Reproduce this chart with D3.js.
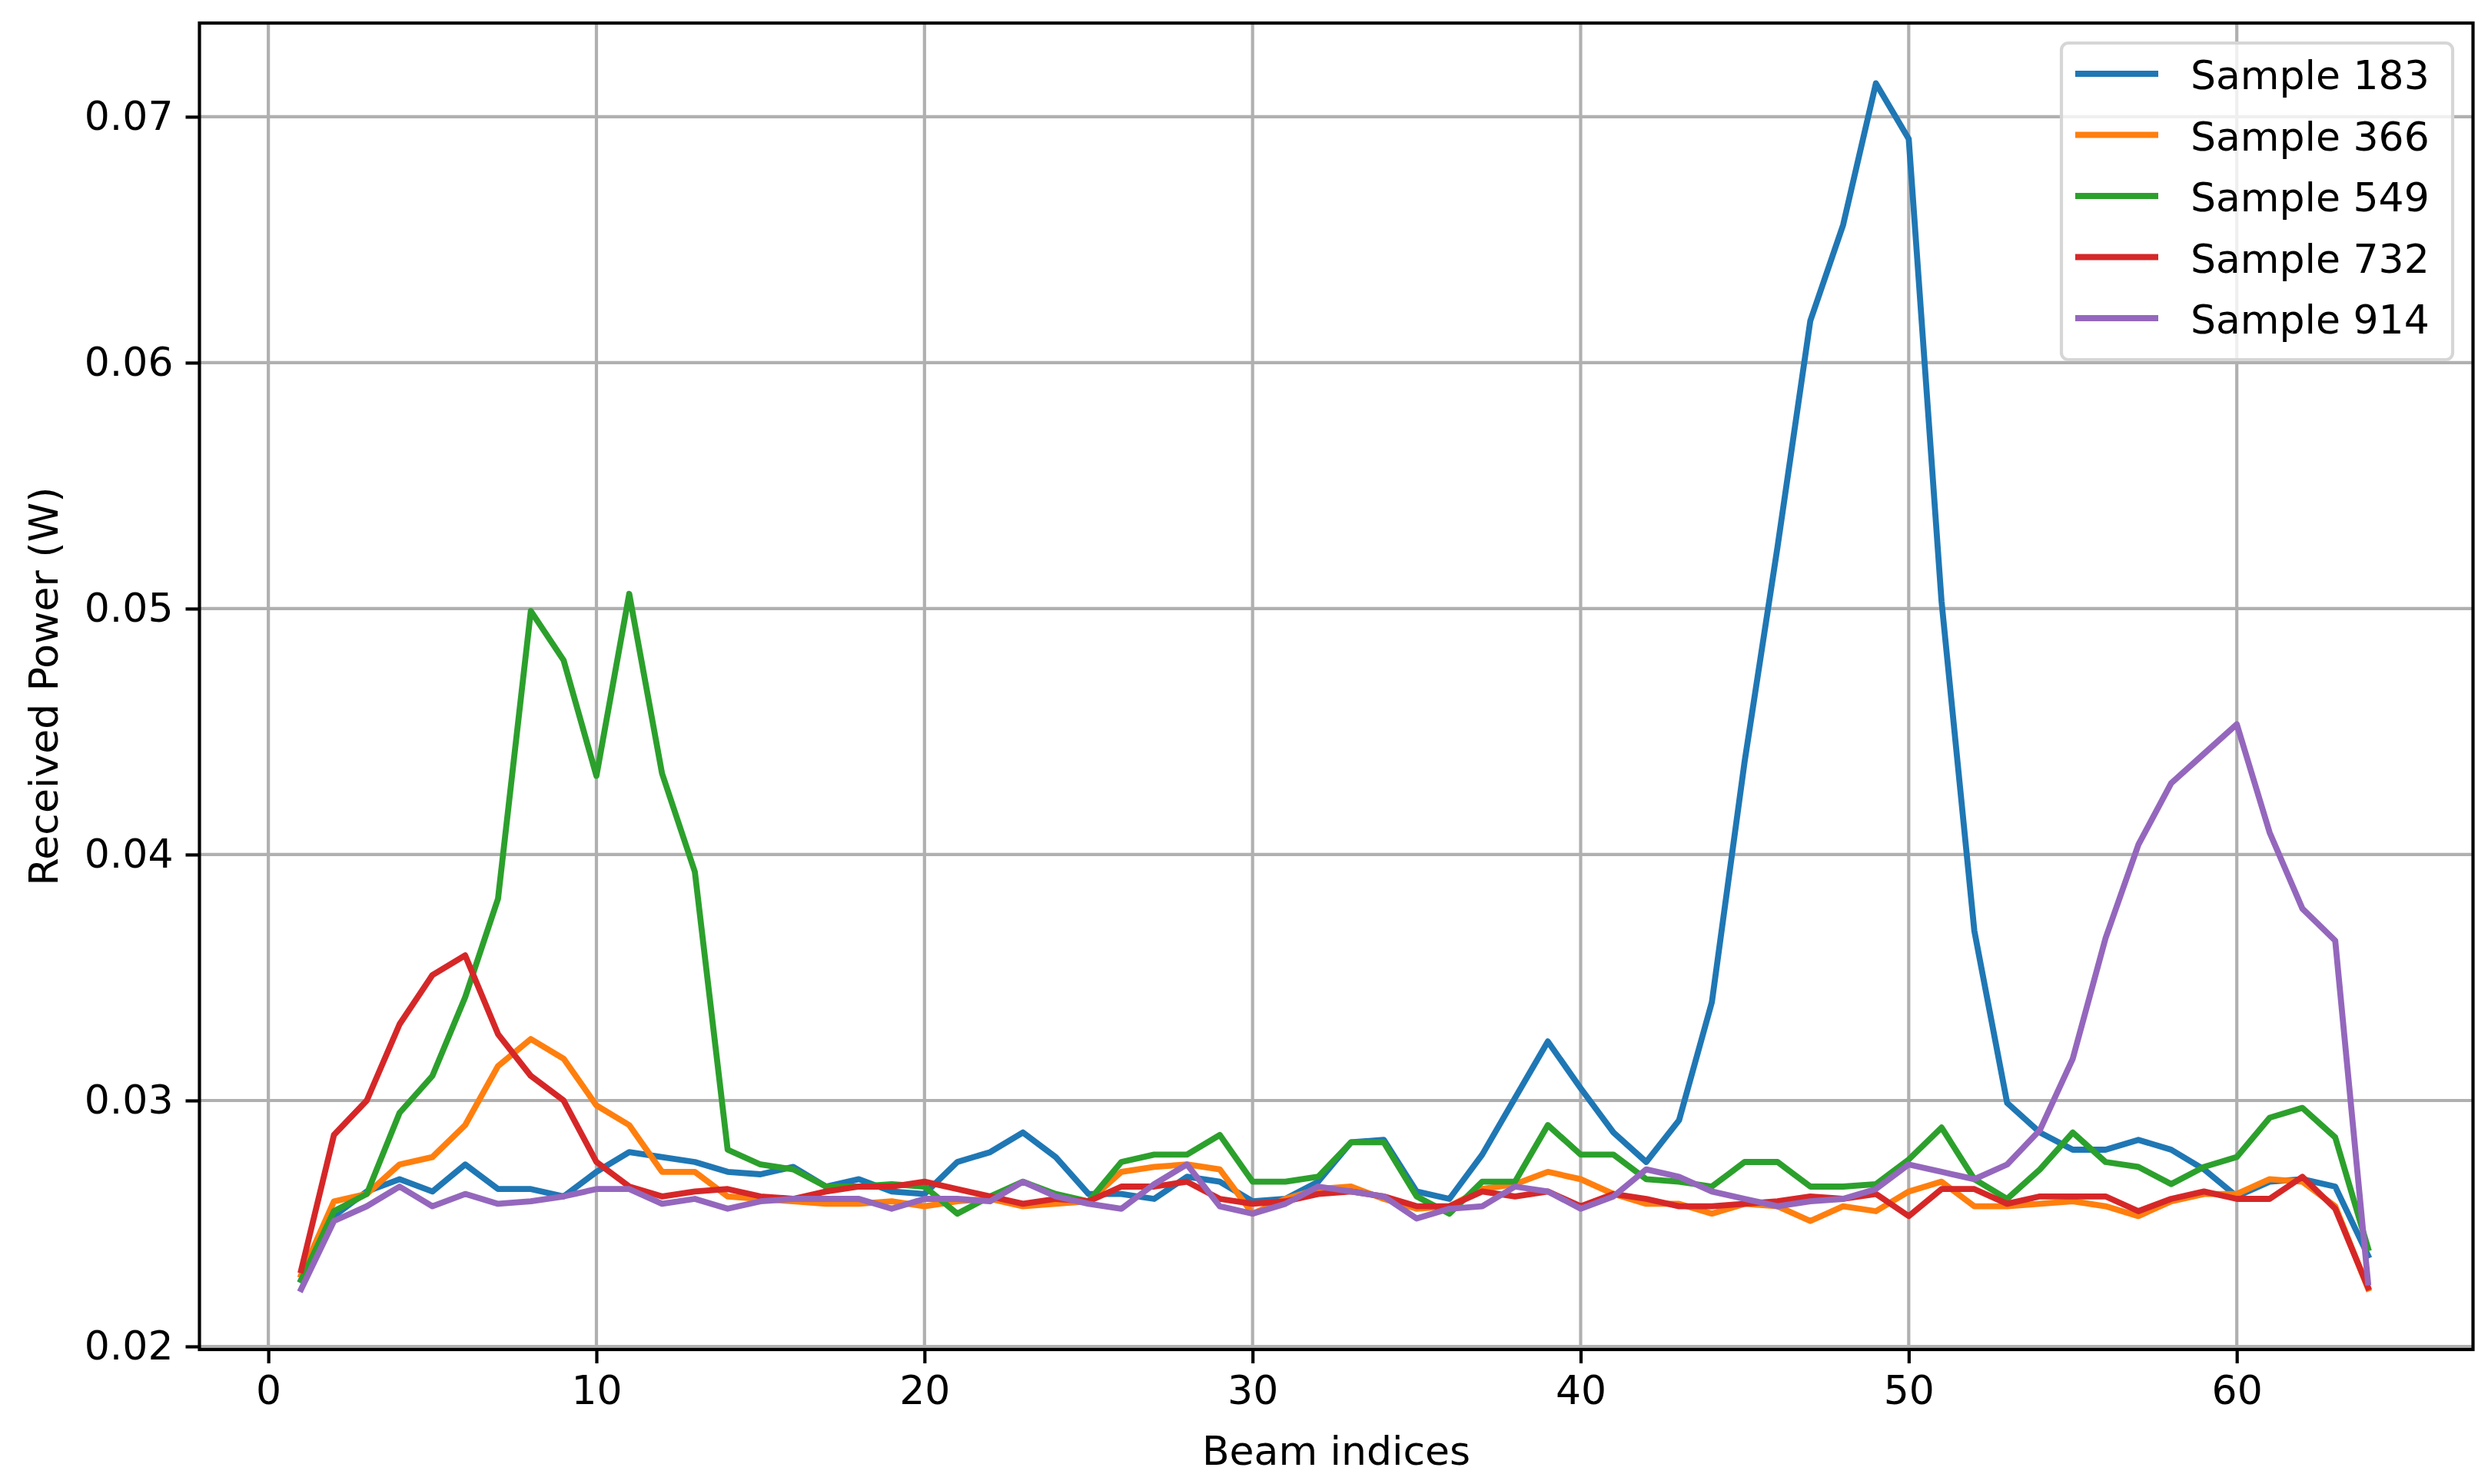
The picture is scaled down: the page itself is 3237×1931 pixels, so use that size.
<!DOCTYPE html>
<html>
<head>
<meta charset="utf-8">
<script src="https://cdn.jsdelivr.net/npm/d3@7"></script>
<style>
  html, body { margin: 0; padding: 0; background: #ffffff; }
  svg { display: block; }
  text { font-family: "DejaVu Sans", sans-serif; }
</style>
</head>
<body>
<svg id="chart" width="3237" height="1931"></svg>
<script>
// ---------- data ----------
const beamIndices = d3.range(1, 65);

const sample183 = [
  0.0227, 0.0253, 0.0263, 0.0268, 0.0263, 0.0274, 0.0264, 0.0264, 0.0261, 0.0271,
  0.0279, 0.0277, 0.0275, 0.0271, 0.0270, 0.0273, 0.0265, 0.0268, 0.0263, 0.0262,
  0.0275, 0.0279, 0.0287, 0.0277, 0.0262, 0.0262, 0.0260, 0.0269, 0.0267, 0.0259,
  0.0260, 0.0267, 0.0283, 0.0284, 0.0263, 0.0260, 0.0278, 0.0301, 0.0324, 0.0305,
  0.0287, 0.0275, 0.0292, 0.0340, 0.0438, 0.0525, 0.0617, 0.0656, 0.07136, 0.0691,
  0.0503, 0.0369, 0.0299, 0.0287, 0.0280, 0.0280, 0.0284, 0.0280, 0.0272, 0.0261,
  0.0267, 0.0268, 0.0265, 0.0237
];
const sample366 = [
  0.0229, 0.0259, 0.0262, 0.0274, 0.0277, 0.0290, 0.0314, 0.0325, 0.0317, 0.0298,
  0.0290, 0.0271, 0.0271, 0.0261, 0.0260, 0.0259, 0.0258, 0.0258, 0.0259, 0.0257,
  0.0259, 0.0260, 0.0257, 0.0258, 0.0259, 0.0271, 0.0273, 0.0274, 0.0272, 0.0254,
  0.0260, 0.0264, 0.0265, 0.0260, 0.0256, 0.0257, 0.0264, 0.0266, 0.0271, 0.0268,
  0.0262, 0.0258, 0.0258, 0.0254, 0.0258, 0.0257, 0.0251, 0.0257, 0.0255, 0.0263,
  0.0267, 0.0257, 0.0257, 0.0258, 0.0259, 0.0257, 0.0253, 0.0259, 0.0262, 0.0262,
  0.0268, 0.0267, 0.0257, 0.02235
];
const sample549 = [
  0.0227, 0.0255, 0.0262, 0.0295, 0.0310, 0.0342, 0.0382, 0.0499, 0.0479, 0.0432,
  0.0506, 0.0433, 0.0393, 0.0280, 0.0274, 0.0272, 0.0265, 0.0265, 0.0266, 0.0265,
  0.0254, 0.0261, 0.0267, 0.0262, 0.0259, 0.0275, 0.0278, 0.0278, 0.0286, 0.0267,
  0.0267, 0.0269, 0.0283, 0.0283, 0.0261, 0.0254, 0.0267, 0.0267, 0.0290, 0.0278,
  0.0278, 0.0268, 0.0267, 0.0265, 0.0275, 0.0275, 0.0265, 0.0265, 0.0266, 0.0276,
  0.0289, 0.0268, 0.0260, 0.0272, 0.0287, 0.0275, 0.0273, 0.0266, 0.0273, 0.0277,
  0.0293, 0.0297, 0.0285, 0.0240
];
const sample732 = [
  0.0231, 0.0286, 0.0300, 0.0331, 0.0351, 0.0359, 0.0327, 0.0310, 0.0300, 0.0275,
  0.0265, 0.0261, 0.0263, 0.0264, 0.0261, 0.0260, 0.0263, 0.0265, 0.0265, 0.0267,
  0.0264, 0.0261, 0.0258, 0.0260, 0.0259, 0.0265, 0.0265, 0.0267, 0.0260, 0.0258,
  0.0259, 0.0262, 0.0263, 0.0261, 0.0257, 0.0257, 0.0263, 0.0261, 0.0263, 0.0257,
  0.0262, 0.0260, 0.0257, 0.0257, 0.0258, 0.0259, 0.0261, 0.0260, 0.0262, 0.0253,
  0.0264, 0.0264, 0.0258, 0.0261, 0.0261, 0.0261, 0.0255, 0.0260, 0.0263, 0.0260,
  0.0260, 0.0269, 0.0256, 0.0224
];
const sample914 = [
  0.02233, 0.0251, 0.0257, 0.0265, 0.0257, 0.0262, 0.0258, 0.0259, 0.0261, 0.0264,
  0.0264, 0.0258, 0.0260, 0.0256, 0.0259, 0.0260, 0.0260, 0.0260, 0.0256, 0.0260,
  0.0260, 0.0259, 0.0267, 0.0261, 0.0258, 0.0256, 0.0266, 0.0274, 0.0257, 0.0254,
  0.0258, 0.0265, 0.0263, 0.0261, 0.0252, 0.0256, 0.0257, 0.0265, 0.0263, 0.0256,
  0.0261, 0.0272, 0.0269, 0.0263, 0.0260, 0.0257, 0.0259, 0.0260, 0.0264, 0.0274,
  0.0271, 0.0268, 0.0274, 0.0288, 0.0317, 0.0366, 0.0404, 0.0429, 0.0441, 0.0453,
  0.0409, 0.0378, 0.0365, 0.0226
];

const seriesNames = ["Sample 183", "Sample 366", "Sample 549", "Sample 732", "Sample 914"];
const seriesValues = [sample183, sample366, sample549, sample732, sample914];
const seriesColors = ["#1f77b4", "#ff7f0e", "#2ca02c", "#d62728", "#9467bd"];

const xTicks = [0, 10, 20, 30, 40, 50, 60];
const yTicks = [0.02, 0.03, 0.04, 0.05, 0.06, 0.07];
const xLabel = "Beam indices";
const yLabel = "Received Power (W)";

// ---------- layout ----------
const plot = { left: 259.5, right: 3217.5, top: 30, bottom: 1756 };
const FONT = 52;
const LW = 4.2;

const svg = d3.select("#chart");
svg.append("rect").attr("width", 3237).attr("height", 1931).attr("fill", "#ffffff");

const x = d3.scaleLinear().domain([-2.1, 67.2]).range([plot.left, plot.right]);
const y = d3.scaleLinear().domain([0.019875, 0.07381]).range([plot.bottom, plot.top]);

// grid
const grid = svg.append("g");
grid.selectAll("line.gx").data(xTicks).join("line")
  .attr("x1", d => x(d)).attr("x2", d => x(d))
  .attr("y1", plot.top).attr("y2", plot.bottom)
  .attr("stroke", "#b0b0b0").attr("stroke-width", LW);
grid.selectAll("line.gy").data(yTicks).join("line")
  .attr("y1", d => y(d)).attr("y2", d => y(d))
  .attr("x1", plot.left).attr("x2", plot.right)
  .attr("stroke", "#b0b0b0").attr("stroke-width", LW);

// lines
const line = d3.line()
  .x((d, i) => x(beamIndices[i]))
  .y(d => y(d));

svg.append("g").selectAll("path").data(seriesValues).join("path")
  .attr("d", d => line(d))
  .attr("fill", "none")
  .attr("stroke", (d, i) => seriesColors[i])
  .attr("stroke-width", 7.8)
  .attr("stroke-linejoin", "round")
  .attr("stroke-linecap", "square");

// axes
const xAxis = d3.axisBottom(x).tickValues(xTicks).tickSize(18).tickPadding(16)
  .tickFormat(d3.format("d"));
const yAxis = d3.axisLeft(y).tickValues(yTicks).tickSize(18).tickPadding(16)
  .tickFormat(d3.format(".2f"));

const gx = svg.append("g").attr("transform", `translate(0,${plot.bottom})`).call(xAxis);
const gy = svg.append("g").attr("transform", `translate(${plot.left},0)`).call(yAxis);
[gx, gy].forEach(g => {
  g.select(".domain").remove();
  g.selectAll(".tick line").attr("stroke", "#000").attr("stroke-width", LW);
  g.selectAll(".tick text").attr("fill", "#000")
    .style("font-family", "'DejaVu Sans', sans-serif").style("font-size", FONT + "px");
});

// frame (spines)
svg.append("rect")
  .attr("x", plot.left).attr("y", plot.top)
  .attr("width", plot.right - plot.left).attr("height", plot.bottom - plot.top)
  .attr("fill", "none").attr("stroke", "#000").attr("stroke-width", LW);

// axis labels
svg.append("text")
  .attr("x", (plot.left + plot.right) / 2).attr("y", 1906)
  .attr("text-anchor", "middle").attr("font-size", FONT).attr("fill", "#000")
  .text(xLabel);
svg.append("text")
  .attr("transform", "rotate(-90)")
  .attr("x", -(plot.top + plot.bottom) / 2).attr("y", 75)
  .attr("text-anchor", "middle").attr("font-size", FONT).attr("fill", "#000")
  .text(yLabel);

// legend
const legend = svg.append("g");
legend.append("rect")
  .attr("x", 2682).attr("y", 56).attr("width", 509).attr("height", 412)
  .attr("rx", 9).attr("ry", 9)
  .attr("fill", "#ffffff").attr("fill-opacity", 0.8)
  .attr("stroke", "#d6d6d6").attr("stroke-width", LW);
const rowY = i => 96 + i * 79.5;
legend.selectAll("line").data(seriesNames).join("line")
  .attr("x1", 2700).attr("x2", 2808)
  .attr("y1", (d, i) => rowY(i)).attr("y2", (d, i) => rowY(i))
  .attr("stroke", (d, i) => seriesColors[i]).attr("stroke-width", 7.8)
  .attr("stroke-linecap", "butt");
legend.selectAll("text").data(seriesNames).join("text")
  .attr("x", 2850).attr("y", (d, i) => rowY(i) + 20)
  .attr("font-size", FONT).attr("fill", "#000")
  .text(d => d);
</script>
</body>
</html>
